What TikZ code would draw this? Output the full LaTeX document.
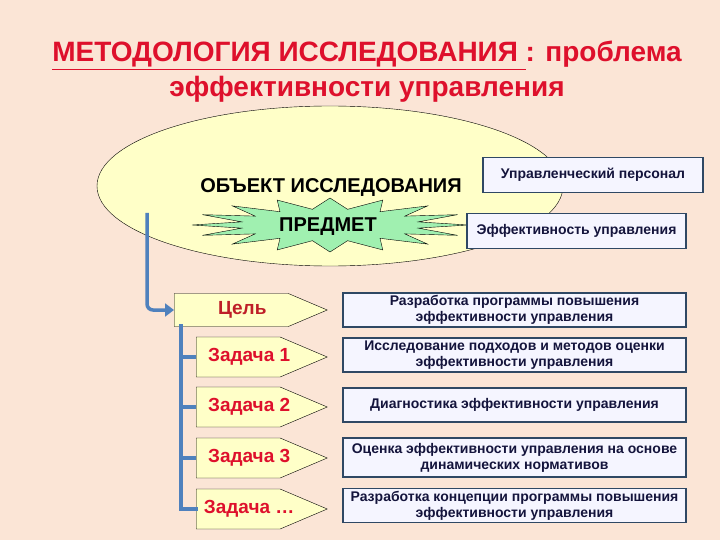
\documentclass[tikz,border=0pt]{standalone}
\usepackage{fontspec}
\setmainfont{Liberation Sans}
\usetikzlibrary{shapes.geometric}
\usetikzlibrary{shapes.symbols}
\usetikzlibrary{arrows.meta}
\definecolor{pagebg}{RGB}{251,229,214}
\definecolor{titlered}{RGB}{222,16,44}
\definecolor{goalred}{RGB}{190,30,40}
\definecolor{objfill}{RGB}{255,255,200}
\definecolor{burstfill}{RGB}{160,240,176}
\definecolor{boxedge}{RGB}{47,72,100}
\definecolor{boxink}{RGB}{20,20,60}
\definecolor{linkblue}{RGB}{79,129,189}
\newcommand{\fs}[1]{\fontsize{#1}{#1}\selectfont}
\newcommand{\tasktxt}[1]{\makebox[0pt]{\hspace*{22pt}#1}}
\tikzset{
  resbox/.style={draw=boxedge, line width=1.6pt, fill=white!96!blue,
    minimum width=343pt, minimum height=34pt, align=center, inner sep=1pt,
    font=\fontsize{14}{16}\selectfont\bfseries, text=boxink},
  topbox/.style={resbox, minimum height=35pt},
  goalbox/.style={signal, signal to=east, signal pointer angle=46, draw=black,
    fill=objfill, anchor=west, font=\fs{19}\bfseries, text=titlered, minimum height=40pt},
  bluebar/.style={draw=linkblue, line width=3.5pt}
}
\begin{document}
\begin{tikzpicture}[x=1pt,y=-1pt]
\fill[pagebg] (0,0) rectangle (720,540);
\useasboundingbox (0,0) rectangle (720,540);

\node[align=center, text=titlered, font=\fontsize{28}{35}\selectfont\bfseries] (title) at (367,72)
  {\underline{МЕТОДОЛОГИЯ ИССЛЕДОВАНИЯ\ }: проблема\\эффективности управления};

% object and subject
\node[ellipse, draw=black, fill=objfill, minimum width=466pt, minimum height=160pt] (object) at (330,186) {};
\node[font=\fs{20}\bfseries] (objtext) at (331,188) {ОБЪЕКТ ИССЛЕДОВАНИЯ};
\draw[black, fill=burstfill] (330,225) +(0:138 and 27)
  \foreach \k in {1,...,31} { -- +(\k*11.25:{ifthenelse(isodd(\k),90,138)} and {ifthenelse(isodd(\k),16,27)}) } -- cycle;
\node[font=\fs{20}\bfseries] (subject) at (328,227) {ПРЕДМЕТ};

\node[topbox, minimum width=220pt] (staff) at (593,175) {Управленческий персонал};
\node[topbox, minimum width=219pt] (effect) at (576.5,231) {Эффективность управления};

% goal and tasks
\node[goalbox, minimum height=33pt, minimum width=153pt, text=goalred] (goal) at (174,310) {\tasktxt{Цель}};
\node[goalbox, minimum width=131pt] (task1) at (196,357) {\tasktxt{Задача 1}};
\node[goalbox, minimum width=131pt] (task2) at (196,407) {\tasktxt{Задача 2}};
\node[goalbox, minimum width=131pt] (task3) at (196,458) {\tasktxt{Задача 3}};
\node[goalbox, minimum width=131pt] (task4) at (196,509) {\tasktxt{Задача \dots}};

\node[resbox] (res0) at (514.5,310) {Разработка программы повышения\\эффективности управления};
\node[resbox] (res1) at (514.5,355) {Исследование подходов и методов оценки\\эффективности управления};
\node[resbox] (res2) at (514.5,405) {Диагностика эффективности управления};
\node[resbox, minimum height=39pt] (res3) at (514.5,457.5) {Оценка эффективности управления на основе\\динамических нормативов};
\node[resbox] (res4) at (514.5,505.5) {Разработка концепции программы повышения\\эффективности управления};

% blue links
\coordinate (start) at (147,213);
\coordinate (trunk) at (181,326);
\draw[bluebar, rounded corners=6pt, -{Triangle[length=9pt,width=13pt]}] (start) |- (goal.west);
\draw[bluebar, line cap=rect] (trunk) |- (task4.west);
\foreach \t in {task1,task2,task3}
  \draw[bluebar] (\t.west) -- (\t.west -| trunk);
\end{tikzpicture}
\end{document}
